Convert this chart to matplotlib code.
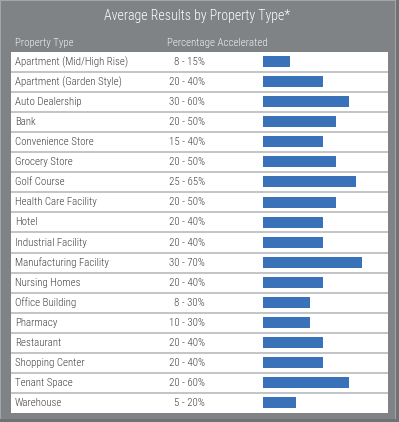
import os
import matplotlib
matplotlib.use("Agg")
import matplotlib.pyplot as plt
from matplotlib.patches import Rectangle
from matplotlib import font_manager
from matplotlib.font_manager import FontProperties

categories = ["Apartment (Mid/High Rise)", "Apartment (Garden Style)", "Auto Dealership",
              "Bank", "Convenience Store", "Grocery Store", "Golf Course",
              "Health Care Facility", "Hotel", "Industrial Facility",
              "Manufacturing Facility", "Nursing Homes", "Office Building", "Pharmacy",
              "Restaurant", "Shopping Center", "Tenant Space", "Warehouse"]
low_pct = [8, 20, 30, 20, 15, 20, 25, 20, 20, 20, 30, 20, 8, 10, 20, 20, 20, 5]
high_pct = [15, 40, 60, 50, 40, 50, 65, 50, 40, 40, 70, 40, 30, 30, 40, 40, 60, 20]
title = "Average Results by Property Type*"
col_headers = ["Property Type", "Percentage Accelerated"]

# pick a condensed font file if any is installed (light preferred)
files = [f.fname for f in font_manager.fontManager.ttflist]
def find(keys, excl=()):
    for k in keys:
        for c in files:
            b = os.path.basename(c).lower()
            if k in b and not any(e in b for e in excl):
                return c
    return None

light = find(["robotocondensed-light.", "robotocondensed-light", "liberationsansnarrow-regular",
              "dejavusanscondensed.ttf"], excl=("italic",))
regular = find(["robotocondensed-regular", "liberationsansnarrow-regular",
                "dejavusanscondensed.ttf"], excl=("italic",))
if light is None:
    light = regular

def fp(size, path=None):
    path = path or light
    if path:
        return FontProperties(fname=path, size=size)
    return FontProperties(family="DejaVu Sans", size=size * 0.9)

W, H = 399, 422
fig = plt.figure(figsize=(W / 100, H / 100), dpi=100)
fig.patch.set_facecolor("#6f7274")

def fx(px):
    return px / W

def fy(py):
    return 1 - py / H

fig.patches.append(Rectangle((0, fy(419)), fx(396), fy(0) - fy(419),
                             transform=fig.transFigure, facecolor="#a3a6a8",
                             edgecolor="none", zorder=-2))
fig.patches.append(Rectangle((fx(1), fy(419)), fx(395) - fx(1), fy(1) - fy(419),
                             transform=fig.transFigure, facecolor="#808385",
                             edgecolor="none", zorder=-1))

fig.text(fx(197), fy(16), title, color="white", fontproperties=fp(10), ha="center", va="center")
fig.text(fx(15), fy(43), col_headers[0], color="#f2f2f2", fontproperties=fp(7.8), ha="left", va="center")
fig.text(fx(167), fy(43), col_headers[1], color="#f2f2f2", fontproperties=fp(7.8), ha="left", va="center")

tx0, tx1, ty0, ty1 = 11, 388, 52, 413
ax = fig.add_axes([fx(tx0), fy(ty1), fx(tx1) - fx(tx0), fy(ty0) - fy(ty1)])
ax.set_zorder(2)
ax.set_facecolor("white")
n = len(categories)
ax.set_xlim(tx0, tx1)
ax.set_ylim(n, 0)
for s in ax.spines.values():
    s.set_visible(False)
ax.set_xticks([])
ax.set_yticks([])

for i in range(1, n):
    ax.axhline(i, color="#b8babc", lw=1.2)

for i, (c, lo, hi) in enumerate(zip(categories, low_pct, high_pct)):
    ax.text(15, i + 0.5, c, color="#404040", fontproperties=fp(7.8), ha="left", va="center")
    ax.text(205, i + 0.5, f"{lo} - {hi}%", color="#404040", fontproperties=fp(7.8), ha="right", va="center")

bx0, bx1 = 263, 385
px_per_pct = 1.32
base = -5.3
bax = fig.add_axes([fx(bx0), fy(ty1), fx(bx1) - fx(bx0), fy(ty0) - fy(ty1)])
bax.set_zorder(3)
bax.patch.set_alpha(0)
bax.set_xlim(base, base + (bx1 - bx0) / px_per_pct)
bax.set_ylim(n, 0)
for s in bax.spines.values():
    s.set_visible(False)
bax.set_xticks([])
bax.set_yticks([])
ypos = [i + 0.48 for i in range(n)]
bax.barh(ypos, [h - base for h in high_pct], left=base, height=0.55, color="#3a72b9")

fig.savefig("out.png", dpi=100, facecolor=fig.get_facecolor())
